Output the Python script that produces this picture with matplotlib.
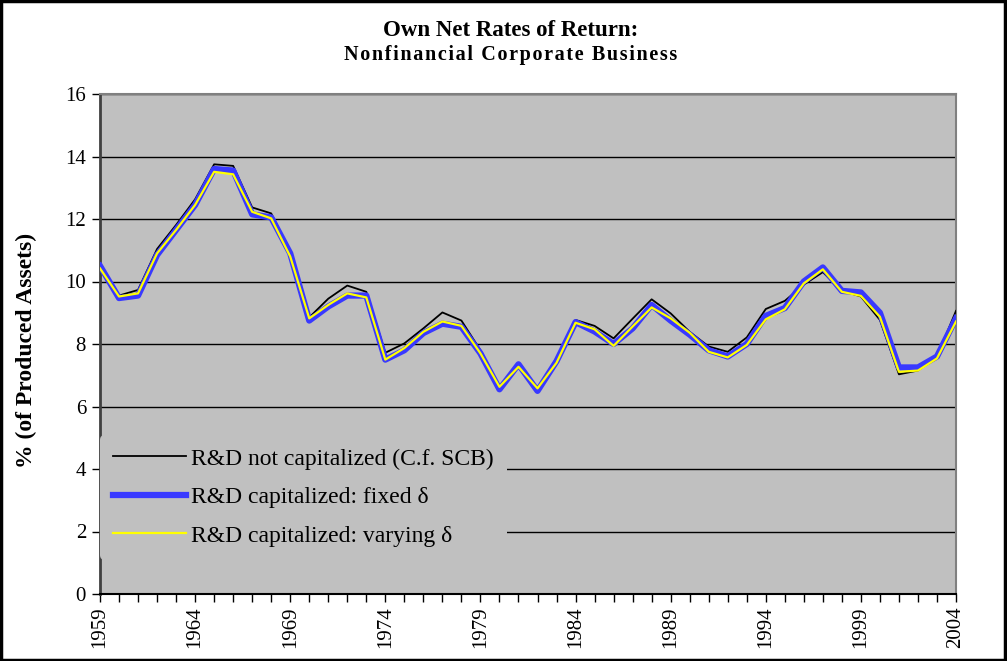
import matplotlib
matplotlib.use("Agg")
import matplotlib.pyplot as plt
from matplotlib.patches import Rectangle
import numpy as np

years = list(range(1959, 2005))

not_capitalized = [10.45, 9.55, 9.73, 11.04, 11.81, 12.63, 13.75, 13.70, 12.37, 12.18,
                   10.95, 8.85, 9.45, 9.87, 9.67, 7.72, 8.02, 8.50, 9.01, 8.75,
                   7.80, 6.60, 7.30, 6.55, 7.55, 8.77, 8.58, 8.18, 8.81, 9.43,
                   8.98, 8.39, 7.92, 7.75, 8.21, 9.12, 9.38, 9.90, 10.30, 9.70,
                   9.52, 8.77, 7.03, 7.15, 7.60, 9.06]

fixed_delta = [10.50, 9.47, 9.55, 10.85, 11.65, 12.45, 13.60, 13.55, 12.15, 12.05,
               10.90, 8.75, 9.20, 9.55, 9.55, 7.50, 7.80, 8.35, 8.65, 8.55,
               7.70, 6.55, 7.35, 6.50, 7.45, 8.70, 8.40, 8.00, 8.50, 9.25,
               8.75, 8.30, 7.80, 7.60, 8.00, 8.90, 9.15, 10.00, 10.45, 9.70,
               9.65, 9.00, 7.25, 7.25, 7.60, 8.82]

varying_delta = [10.42, 9.52, 9.62, 10.90, 11.65, 12.45, 13.51, 13.43, 12.23, 12.02,
                 10.80, 8.82, 9.25, 9.62, 9.49, 7.50, 7.87, 8.39, 8.72, 8.58,
                 7.70, 6.63, 7.27, 6.58, 7.40, 8.68, 8.47, 7.94, 8.56, 9.17,
                 8.82, 8.36, 7.75, 7.57, 7.97, 8.79, 9.11, 9.94, 10.39, 9.67,
                 9.54, 8.87, 7.11, 7.15, 7.54, 8.72]

labels = ["R&D not capitalized (C.f. SCB)",
          "R&D capitalized: fixed \u03b4",
          "R&D capitalized: varying \u03b4"]

title = "Own Net Rates of Return:"
subtitle = "Nonfinancial Corporate Business"

plt.rcParams['font.family'] = ['Liberation Serif', 'DejaVu Serif']

fig = plt.figure(figsize=(10.07, 6.61), dpi=100)
fig.patch.set_facecolor('white')
ax = fig.add_axes([100/1007, 1-594/661, 856/1007, 500/661])
ax.set_facecolor('#C0C0C0')

for y in range(2, 17, 2):
    ax.axhline(y, color='black', lw=1.0, zorder=1)

l1, = ax.plot(years, not_capitalized, color='black', lw=1.3, zorder=3, label=labels[0])
l2, = ax.plot(years, fixed_delta, color='#3939FF', lw=4.5, zorder=4, label=labels[1])
l3, = ax.plot(years, varying_delta, color='#FFFF00', lw=1.6, zorder=5, label=labels[2])

ax.set_xlim(1959, 2004)
ax.set_ylim(0, 16)
ax.set_yticks(range(0, 17, 2))
ax.set_xticks(range(1959, 2005, 5))
ax.set_xticks(years, minor=True)
ax.tick_params(axis='x', which='both', direction='out', length=6, width=1, rotation=90,
               labelsize=15, pad=3)
ax.tick_params(axis='y', direction='out', length=6, width=1, labelsize=15, pad=4)

for s in ['top', 'right']:
    ax.spines[s].set_color('#808080')
    ax.spines[s].set_linewidth(1.5)
ax.spines['left'].set_color('#404040')
ax.spines['left'].set_linewidth(2)
ax.spines['bottom'].set_color('black')
ax.spines['bottom'].set_linewidth(1.5)

ax.set_ylabel('% (of Produced Assets)', fontsize=17, fontweight='bold')
ax.yaxis.set_label_coords(-63/856, 0.488)

leg = ax.legend(handles=[l1, l2, l3], loc='upper left', bbox_to_anchor=(0.0, 0.318),
                borderaxespad=0, frameon=True, fontsize=17, handlelength=3.1,
                handletextpad=0.2, labelspacing=0.72, borderpad=0.55)
leg.get_frame().set_facecolor('#C0C0C0')
leg.get_frame().set_edgecolor('none')
leg.get_frame().set_alpha(1)
leg.set_zorder(10)

fig.text(511/1007, 1-30/661, title, ha='center', va='center',
         fontsize=16.5, fontweight='bold')
spaced = "\u200a".join(subtitle)
fig.text(511/1007, 1-55/661, spaced, ha='center', va='center',
         fontsize=14.5, fontweight='bold')

fig.patches.append(Rectangle((0.001, 0.002), 0.997, 0.996, transform=fig.transFigure,
                             fill=False, edgecolor='black', lw=2.5))

fig.savefig('out.png', dpi=100)
